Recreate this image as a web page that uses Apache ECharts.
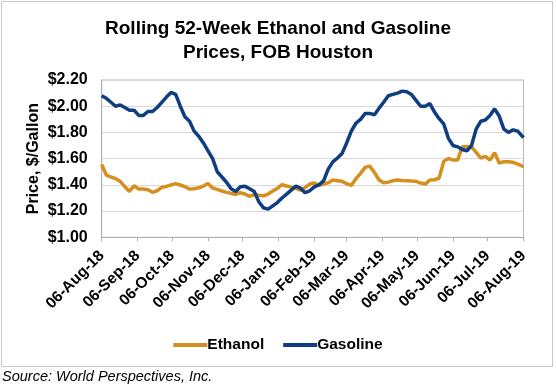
<!DOCTYPE html>
<html>
<head>
<meta charset="utf-8">
<script src="https://cdn.jsdelivr.net/npm/echarts@6/dist/echarts.min.js"></script>
<style>
html,body{margin:0;padding:0;background:#fff;}
#chart{width:556px;height:389px;}
</style>
</head>
<body>
<div id="chart"></div>
<script>
var titleLines = ['Rolling 52-Week Ethanol and Gasoline', 'Prices, FOB Houston'];
var sourceText = 'Source: World Perspectives, Inc.';
var yAxisName = 'Price, $/Gallon';
var seriesNames = ['Ethanol', 'Gasoline'];

var dates = [
'2018-08-06','2018-08-10','2018-08-14','2018-08-18','2018-08-22','2018-08-26','2018-08-30','2018-09-03',
'2018-09-07','2018-09-11','2018-09-15','2018-09-19','2018-09-23','2018-09-27','2018-10-01','2018-10-05',
'2018-10-09','2018-10-13','2018-10-17','2018-10-21','2018-10-25','2018-10-29','2018-11-02','2018-11-06',
'2018-11-10','2018-11-14','2018-11-18','2018-11-22','2018-11-26','2018-11-30','2018-12-04','2018-12-08',
'2018-12-12','2018-12-16','2018-12-20','2018-12-24','2018-12-28','2019-01-01','2019-01-05','2019-01-09',
'2019-01-13','2019-01-17','2019-01-21','2019-01-25','2019-01-29','2019-02-02','2019-02-06','2019-02-10',
'2019-02-14','2019-02-18','2019-02-22','2019-02-26','2019-03-02','2019-03-06','2019-03-10','2019-03-14',
'2019-03-18','2019-03-22','2019-03-26','2019-03-30','2019-04-03','2019-04-07','2019-04-11','2019-04-15',
'2019-04-19','2019-04-23','2019-04-27','2019-05-01','2019-05-05','2019-05-09','2019-05-13','2019-05-17',
'2019-05-21','2019-05-25','2019-05-29','2019-06-02','2019-06-06','2019-06-10','2019-06-14','2019-06-18',
'2019-06-22','2019-06-26','2019-06-30','2019-07-04','2019-07-08','2019-07-12','2019-07-16','2019-07-20',
'2019-07-24','2019-07-28','2019-08-01','2019-08-05','2019-08-06'
];

var gasoline = [
2.08,2.06,2.03,2.00,2.01,1.99,1.97,1.97,
1.93,1.93,1.96,1.96,1.99,2.03,2.07,2.105,
2.09,2.00,1.92,1.885,1.81,1.77,1.72,1.66,
1.60,1.50,1.46,1.42,1.37,1.35,1.385,1.39,
1.37,1.35,1.27,1.225,1.215,1.24,1.265,1.30,
1.33,1.36,1.39,1.375,1.34,1.355,1.385,1.40,
1.43,1.52,1.575,1.605,1.64,1.72,1.81,1.87,
1.90,1.945,1.945,1.935,1.985,2.03,2.08,2.09,
2.10,2.115,2.11,2.09,2.045,2.00,2.00,2.02,
1.955,1.905,1.865,1.755,1.70,1.69,1.67,1.66,
1.70,1.825,1.885,1.895,1.93,1.98,1.925,1.825,
1.80,1.82,1.81,1.77,1.76
];

var ethanol = [
1.555,1.475,1.46,1.447,1.427,1.386,1.35,1.393,
1.368,1.368,1.363,1.343,1.355,1.381,1.388,1.399,
1.409,1.399,1.386,1.368,1.371,1.378,1.391,1.41,
1.376,1.366,1.353,1.343,1.335,1.327,1.34,1.33,
1.312,1.325,1.32,1.317,1.33,1.353,1.373,1.401,
1.391,1.383,1.373,1.36,1.38,1.406,1.414,1.396,
1.406,1.416,1.437,1.432,1.427,1.409,1.396,1.447,
1.488,1.533,1.543,1.495,1.437,1.416,1.421,1.432,
1.437,1.434,1.432,1.429,1.427,1.414,1.406,1.437,
1.439,1.452,1.579,1.602,1.589,1.589,1.691,1.691,
1.691,1.648,1.605,1.617,1.589,1.645,1.566,1.577,
1.577,1.572,1.559,1.543,1.54
];

var tickDates = [
'2018-08-06','2018-09-06','2018-10-06','2018-11-06','2018-12-06','2019-01-06','2019-02-06',
'2019-03-06','2019-04-06','2019-05-06','2019-06-06','2019-07-06','2019-08-06'
];
var tickLabels = [
'06-Aug-18','06-Sep-18','06-Oct-18','06-Nov-18','06-Dec-18','06-Jan-19','06-Feb-19',
'06-Mar-19','06-Apr-19','06-May-19','06-Jun-19','06-Jul-19','06-Aug-19'
];

// day offset from the first date (library scale handles positions)
function dayOf(s){
  var p = s.split('-');
  return Math.round((Date.UTC(+p[0], +p[1]-1, +p[2]) - Date.UTC(2018, 7, 6)) / 86400000);
}
var tickDays = tickDates.map(dayOf);
var labelByDay = {};
tickDays.forEach(function(d,i){ labelByDay[d] = tickLabels[i]; });

function pairs(vals){ return dates.map(function(d,i){ return [dayOf(d), vals[i]]; }); }

var FONT = '"Liberation Sans", Arial, sans-serif';
var chart = echarts.init(document.getElementById('chart'), null, {renderer:'canvas'});
chart.setOption({
  animation: false,
  backgroundColor: '#fff',
  title: {
    text: titleLines.join('\n'),
    left: 'center',
    top: 12,
    textStyle: {fontFamily: FONT, fontWeight: 'bold', fontSize: 19, color: '#000', lineHeight: 24}
  },
  graphic: [
    {type:'rect', shape:{x:1.5, y:1.5, width:551, height:365}, style:{fill:'none', stroke:'#c8c8c8', lineWidth:1}, silent:true},
    {type:'text', left: 2, top: 369, style:{text: sourceText, font: 'italic 14.5px "Liberation Sans", Arial, sans-serif', fill:'#000'}}
  ],
  legend: {
    data: seriesNames,
    left: 'center',
    top: 332,
    itemWidth: 34,
    itemHeight: 4,
    itemGap: 19,
    icon: 'rect',
    textStyle: {fontFamily: FONT, fontWeight: 'bold', fontSize: 15.5, color: '#000', padding: [0,0,0,-5]}
  },
  grid: {left: 101.7, right: 32.5, top: 80, bottom: 151.7, show: true, borderColor: '#b8b8b8', borderWidth: 1},
  xAxis: {
    type: 'value',
    min: 0,
    max: dayOf(tickDates[tickDates.length-1]),
    axisLine: {show: true, lineStyle: {color: '#b0b0b0', width: 1}},
    axisTick: {show: true, length: 4, lineStyle: {color: '#b0b0b0'}, customValues: tickDays},
    splitLine: {show: false},
    axisLabel: {
      customValues: tickDays,
      rotate: 45,
      margin: 16,
      fontFamily: FONT, fontWeight: 'bold', fontSize: 15.5, color: '#000',
      formatter: function(v){ return labelByDay[Math.round(v)] || ''; }
    }
  },
  yAxis: {
    type: 'value',
    min: 1.0, max: 2.2, interval: 0.2,
    name: yAxisName,
    nameLocation: 'middle',
    nameRotate: 90,
    nameGap: 60,
    nameMoveOverlap: false,
    nameTextStyle: {fontFamily: FONT, fontWeight: 'bold', fontSize: 16, color: '#000'},
    axisLine: {show: true, lineStyle: {color: '#b0b0b0'}},
    axisTick: {show: false},
    splitLine: {show: true, lineStyle: {color: '#d9d9d9', width: 1}},
    axisLabel: {
      margin: 14,
      fontFamily: FONT, fontWeight: 'bold', fontSize: 16, color: '#000',
      formatter: function(v){ return '$' + v.toFixed(2); }
    }
  },
  series: [
    {name: seriesNames[0], type: 'line', data: pairs(ethanol), showSymbol: false, symbol: 'none',
     lineStyle: {color: '#d68f1f', width: 3.5}, itemStyle: {color: '#d68f1f'}, z: 2},
    {name: seriesNames[1], type: 'line', data: pairs(gasoline), showSymbol: false, symbol: 'none',
     lineStyle: {color: '#0f3e80', width: 3.5}, itemStyle: {color: '#0f3e80'}, z: 3}
  ]
});
</script>
</body>
</html>
